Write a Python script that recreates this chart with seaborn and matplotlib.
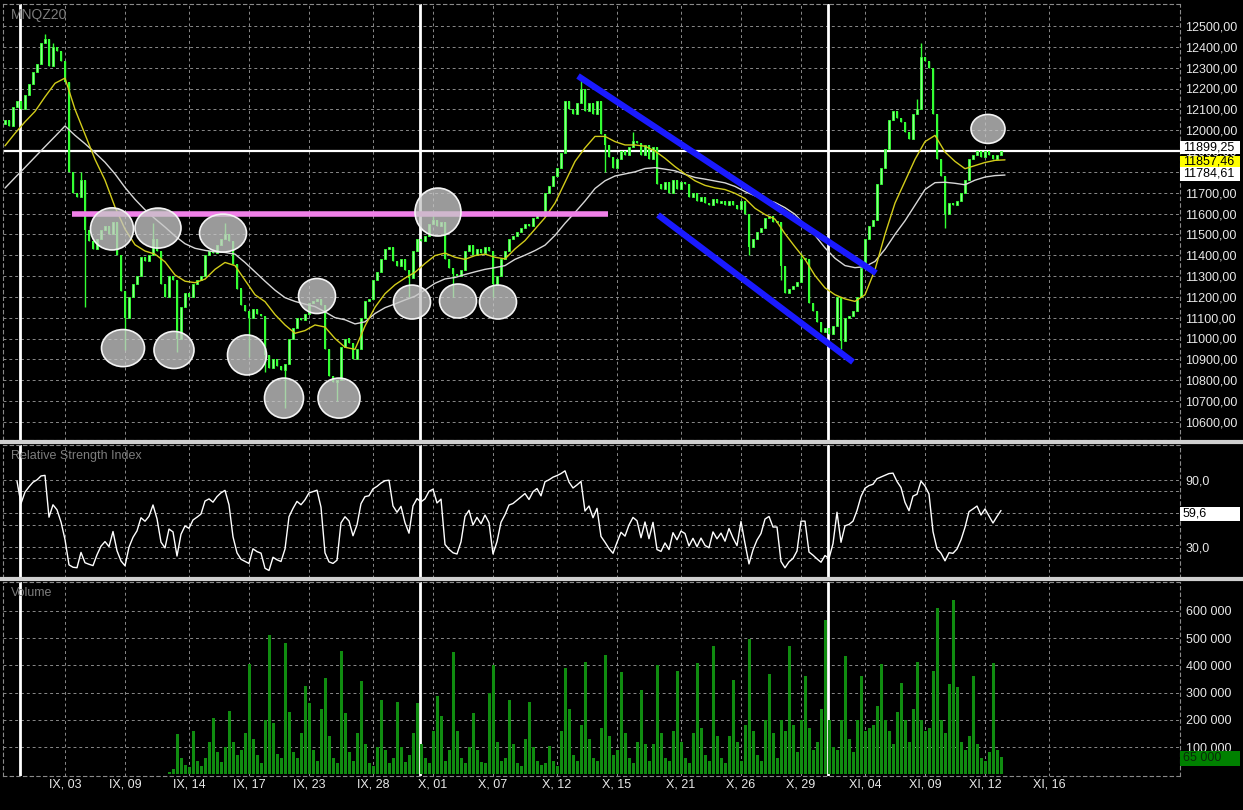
import numpy as np
import pandas as pd
import matplotlib
matplotlib.use("Agg")
import matplotlib.pyplot as plt
import matplotlib.transforms as mtransforms
from matplotlib.patches import Ellipse, Rectangle
from matplotlib.lines import Line2D
import seaborn as sns

sns.set_style("dark")
plt.rcParams['font.family'] = ['Liberation Sans', 'DejaVu Sans']

# ---------------- data ----------------
symbol = "MNQZ20"
closes = [
    12050, 12020, 12110, 12140, 12100, 12170, 12220, 12280, 12320, 12420,
    12440, 12310, 12400, 12380, 12330, 12230, 11800, 11700, 11680, 11760,
    11520, 11470, 11430, 11480, 11520, 11540, 11500, 11560, 11400, 11230,
    11100, 11200, 11260, 11300, 11390, 11370, 11400, 11480, 11420, 11260,
    11200, 11300, 11280, 11000, 11150, 11220, 11200, 11260, 11280, 11300,
    11400, 11420, 11410, 11450, 11480, 11500, 11470, 11360, 11240, 11160,
    11130, 11100, 11140, 11120, 11110, 10920, 10860, 10900, 10870, 10850,
    10880, 11000, 11050, 11100, 11090, 11120, 11170, 11180, 11190, 11160,
    10950, 10820, 10790, 10800, 10960, 11000, 10980, 10900, 10950, 11100,
    11180, 11190, 11280, 11320, 11380, 11430, 11440, 11370, 11350, 11380,
    11330, 11290, 11420, 11480, 11470, 11490, 11550, 11570, 11540, 11560,
    11380, 11340, 11310, 11300, 11330, 11420, 11450, 11400, 11430, 11410,
    11440, 11420, 11260, 11300, 11380, 11420, 11480, 11490, 11510, 11530,
    11550, 11540, 11580, 11600, 11590, 11700, 11730, 11780, 11820, 11890,
    12140, 12100, 12080, 12130, 12200, 12090, 12130, 12080, 12140, 11980,
    11930, 11870, 11820, 11860, 11900, 11880, 11920, 11950, 11940, 11880,
    11930, 11860, 11920, 11740, 11720, 11750, 11700, 11760, 11720, 11750,
    11740, 11680, 11700, 11660, 11680, 11650, 11640, 11670, 11650, 11660,
    11640, 11660, 11640, 11620, 11660, 11600, 11440, 11480, 11510, 11530,
    11580, 11590, 11560, 11560, 11350, 11220, 11240, 11250, 11270, 11380,
    11380, 11170, 11130, 11080, 11030, 11050, 11020, 11060, 11200, 10990,
    11100, 11110, 11130, 11200, 11340, 11480, 11540, 11570, 11740, 11820,
    11910, 12050, 12090, 12060, 12040, 11990, 11960, 12080, 12100, 12350,
    12330, 12300, 12080, 11860, 11780, 11600, 11650, 11640, 11660, 11700,
    11760, 11860, 11880, 11900, 11870, 11900, 11880, 11860, 11880, 11899.25,
]
first_open = 12030
wick_lows = {20: 11150, 30: 10945, 43: 10935, 61: 10910, 65: 10840, 70: 10665,
             83: 10700, 101: 11200, 112: 11200, 122: 11200, 186: 11400,
             209: 10950, 235: 11530, 194: 11280, 150: 11800}
wick_highs = {10: 12460, 12: 12420, 19: 11800, 37: 11555, 55: 11555, 107: 11610,
              144: 12250, 229: 12418, 228: 12150, 157: 11990, 199: 11410}

volume_k = [0] * 41 + [
    8, 20, 146, 60, 35, 25, 158, 50, 30, 60,
    120, 207, 80, 45, 100, 232, 120, 70, 90, 150,
    405, 130, 70, 40, 200, 512, 190, 75, 60, 482,
    230, 80, 60, 150, 323, 260, 90, 50, 240, 354,
    140, 60, 40, 454, 225, 80, 50, 150, 344, 110,
    40, 30, 100, 271, 90, 40, 60, 266, 100, 45,
    70, 150, 262, 110, 60, 40, 160, 287, 215, 50,
    90, 448, 160, 60, 40, 100, 226, 90, 45, 40,
    300, 402, 120, 50, 60, 272, 110, 40, 30, 130,
    266, 100, 50, 35, 40, 104, 50, 30, 160, 390,
    240, 70, 50, 180, 411, 130, 60, 50, 170, 437,
    140, 70, 90, 374, 150, 60, 40, 120, 311, 110,
    50, 110, 400, 150, 60, 50, 160, 378, 120, 60,
    40, 150, 408, 170, 70, 50, 472, 140, 60, 40,
    140, 348, 120, 50, 180, 496, 160, 70, 50, 200,
    368, 150, 60, 200, 160, 472, 180, 80, 200, 360,
    170, 90, 120, 240, 567, 200, 100, 90, 200, 433,
    130, 80, 200, 360, 160, 170, 180, 250, 405, 200,
    160, 110, 230, 335, 200, 120, 240, 412, 200, 160,
    170, 380, 612, 200, 150, 330, 640, 320, 120, 90,
    140, 360, 110, 60, 50, 80, 408, 90, 65,
]

# moving averages, one reading every 2.5 bars
ma_fast = [
    11925, 11985, 12040, 12090, 12160, 12225, 12250, 12100, 11980, 11860,
    11760, 11631, 11525, 11450, 11420, 11405, 11368, 11305, 11275, 11268,
    11285, 11332, 11365, 11350, 11280, 11210, 11177, 11115, 11065, 11025,
    11038, 11065, 11055, 11000, 10958, 10948, 11060, 11150, 11215, 11258,
    11290, 11318, 11360, 11398, 11410, 11390, 11380, 11398, 11405, 11390,
    11382, 11430, 11470, 11525, 11580, 11650, 11750, 11850, 11915, 11970,
    11970, 11945, 11929, 11929, 11923, 11900, 11865, 11825, 11790, 11757,
    11735, 11723, 11715, 11697, 11672, 11625, 11595, 11573, 11503, 11440,
    11380, 11302, 11243, 11210, 11190, 11178, 11210, 11330, 11500, 11650,
    11755, 11860, 11945, 11975, 11895, 11850, 11815, 11830, 11845, 11855,
    11857.46,
]
ma_slow = [
    11722, 11772, 11821, 11871, 11921, 11970, 12020, 11975, 11935, 11892,
    11846, 11790, 11725, 11668, 11618, 11575, 11535, 11492, 11455, 11433,
    11423, 11416, 11413, 11405, 11365, 11320, 11275, 11232, 11196, 11178,
    11165, 11153, 11128, 11100, 11090, 11070, 11080, 11120, 11148, 11166,
    11185, 11203, 11233, 11265, 11286, 11293, 11307, 11320, 11332, 11340,
    11350, 11380, 11400, 11422, 11448, 11495, 11553, 11605, 11660, 11720,
    11757, 11780, 11790, 11800, 11816, 11820, 11813, 11805, 11788, 11773,
    11765, 11756, 11747, 11730, 11705, 11685, 11668, 11653, 11628, 11596,
    11545, 11495, 11435, 11385, 11350, 11340, 11345, 11370, 11428, 11500,
    11565, 11640, 11715, 11748, 11750, 11745, 11738, 11760, 11775, 11782,
    11784.61,
]
ma_step = 2.5

date_labels = ["IX, 03", "IX, 09", "IX, 14", "IX, 17", "IX, 23", "IX, 28",
               "X, 01", "X, 07", "X, 12", "X, 15", "X, 21", "X, 26", "X, 29",
               "XI, 04", "XI, 09", "XI, 12", "XI, 16"]
date_bars = [15, 30, 46, 61, 76, 92, 107, 122, 138, 153, 169, 184, 199, 215, 230, 245, 261]
separator_bars = [3.75, 103.75, 205.75]

last_price = 11899.25
rsi_last = 59.6
volume_last = 65000
resistance = 11600
resistance_bars = (16.75, 150.75)
channel_upper = [(143.25, 12260), (217.75, 11314)]
channel_lower = [(163.25, 11593), (212.0, 10887)]
# (bar, price, width in bars, height in points)
circles = [
    (26.75, 11526, 10.75, 202), (38.25, 11530, 11.5, 192), (54.5, 11506, 11.75, 182),
    (78.0, 11204, 9.25, 168), (29.5, 10954, 10.75, 178), (42.25, 10945, 10.0, 178),
    (60.5, 10921, 9.75, 192), (69.75, 10714, 9.75, 192), (83.5, 10714, 10.5, 192),
    (108.25, 11607, 11.5, 230), (101.75, 11175, 9.25, 163), (113.25, 11180, 9.25, 163),
    (123.25, 11175, 9.25, 163), (245.75, 12006, 8.5, 139),
]

# ---------------- derived ----------------
n = len(closes)
bars = np.arange(n)
c = np.array(closes, dtype=float)
o = np.concatenate([[first_open], c[:-1]])
body_lo = np.minimum(o, c)
body_hi = np.maximum(o, c)
body_h = np.maximum(body_hi - body_lo, 6)
lows = body_lo.copy()
highs = body_hi.copy()
for k, v in wick_lows.items():
    lows[k] = min(lows[k], v)
for k, v in wick_highs.items():
    highs[k] = max(highs[k], v)

def rsi(values, period):
    s = pd.Series(values, dtype=float)
    d = s.diff()
    up = d.clip(lower=0)
    dn = -d.clip(upper=0)
    au = up.ewm(alpha=1 / period, adjust=False).mean()
    ad = dn.ewm(alpha=1 / period, adjust=False).mean()
    return 100 - 100 / (1 + au / ad)

rsi_vals = rsi(np.concatenate([[first_open], c]), 5).to_numpy()[1:]
rsi_vals[:3] = np.nan
vol = np.array(volume_k, dtype=float) * 1000

df_ma = pd.DataFrame({"bar": np.arange(len(ma_fast)) * ma_step, "fast": ma_fast, "slow": ma_slow})
df_rsi = pd.DataFrame({"bar": bars, "rsi": rsi_vals}).dropna()

# ---------------- figure ----------------
W, H = 1243, 810
fig = plt.figure(figsize=(W / 100, H / 100), dpi=100, facecolor="black")

def axrect(top, bottom, left=3, right=1180):
    return [left / W, 1 - bottom / H, (right - left) / W, (bottom - top) / H]

ax_p = fig.add_axes(axrect(4, 440))
ax_r = fig.add_axes(axrect(445, 578))
ax_v = fig.add_axes(axrect(582, 776))

grid_col = "#8a8a8a"
txt_col = "#e8e8e8"
xlim = (-0.5, 293.75)

for ax in (ax_p, ax_r, ax_v):
    ax.set_facecolor("black")
    ax.set_xlim(*xlim)
    for sp in ax.spines.values():
        sp.set_color(grid_col)
        sp.set_linestyle((0, (3, 3)))
        sp.set_linewidth(0.8)
    ax.yaxis.tick_right()
    ax.tick_params(axis="y", length=0, pad=4, labelcolor=txt_col, labelsize=9)
    ax.tick_params(axis="x", length=0)
    ax.set_xticks(date_bars)
    ax.grid(True, which="both", color=grid_col, linestyle=(0, (3, 3)), linewidth=0.7)
    ax.set_axisbelow(True)
    for b in separator_bars:
        ax.axvline(b, color="white", lw=2, zorder=1)
    ax.set_xlabel("")
    ax.set_ylabel("")

# ---- price panel
ax_p.set_ylim(10512.8, 12605.6)
ax_p.set_yticks(np.arange(10600, 12501, 100))
ax_p.set_yticklabels([f"{v:.2f}".replace(".", ",") for v in np.arange(10600, 12501, 100)])
ax_p.set_xticklabels([])
ax_p.axhline(last_price, color="white", lw=1.6, zorder=2)

lime = "#33ff33"
up = c >= o
ax_p.vlines(bars, lows, highs, color=lime, lw=1.0, zorder=3)
ax_p.bar(bars[up], body_h[up], bottom=body_lo[up], width=0.55, color="#8cff8c",
         edgecolor=lime, linewidth=0.6, zorder=3)
ax_p.bar(bars[~up], body_h[~up], bottom=body_lo[~up], width=0.55, color=lime,
         linewidth=0, zorder=3)

sns.lineplot(data=df_ma, x="bar", y="slow", ax=ax_p, color="#d8d8d8", lw=1.0, zorder=4)
sns.lineplot(data=df_ma, x="bar", y="fast", ax=ax_p, color="#d2cc1a", lw=1.0, zorder=4)
ax_p.set_xlabel("")
ax_p.set_ylabel("")

ax_p.plot(resistance_bars, [resistance, resistance], color="#f080e8", lw=4, zorder=5,
          solid_capstyle="butt")
for seg in (channel_upper, channel_lower):
    ax_p.plot([seg[0][0], seg[1][0]], [seg[0][1], seg[1][1]], color="#1a1aff", lw=4.5,
              zorder=5, solid_capstyle="butt")
for bx, py, wb, hp in circles:
    ax_p.add_patch(Ellipse((bx, py), wb, hp, facecolor=(0.78, 0.78, 0.78, 0.78),
                           edgecolor="#f4f4f4", lw=1.2, zorder=6))

ax_p.text(8 / 1177, 1 - 4 / 436, symbol, transform=ax_p.transAxes, color="#7d7d7d",
          fontsize=10, va="top", ha="left")

def value_box(ax, y, text, face, tcol, h_px, z=10):
    tr = mtransforms.blended_transform_factory(ax.transAxes, ax.transData)
    y0, y1 = ax.get_ylim()
    ax_h_px = ax.get_position().height * H
    h = h_px * (y1 - y0) / ax_h_px
    ax.add_patch(Rectangle((1.0, y - h / 2), 60 / 1177, h, transform=tr, facecolor=face,
                           edgecolor="none", clip_on=False, zorder=z))
    ax.text(1.0 + 3 / 1177, y, text, transform=tr, color=tcol, fontsize=9,
            va="center", ha="left", clip_on=False, zorder=z + 1)

value_box(ax_p, 11915, "11899,25", "white", "black", 13, z=10)
value_box(ax_p, 11852, "11857,46", "#ffff00", "black", 11, z=12)
value_box(ax_p, 11790, "11784,61", "white", "black", 14, z=14)

# ---- RSI panel
sns.lineplot(data=df_rsi, x="bar", y="rsi", ax=ax_r, color="white", lw=1.0, zorder=4)
ax_r.set_xlabel("")
ax_r.set_ylabel("")
ax_r.set_ylim(2.25, 121.3)
ax_r.set_yticks([30, 90])
ax_r.set_yticklabels(["30,0", "90,0"])
ax_r.set_yticks([20, 50, 60, 80], minor=True)
ax_r.tick_params(axis="y", which="minor", length=0)
ax_r.set_xticklabels([])
ax_r.text(8 / 1177, 1 - 5 / 133, "Relative Strength Index", transform=ax_r.transAxes,
          color="#7d7d7d", fontsize=9, va="top", ha="left")
value_box(ax_r, rsi_last, "59,6", "white", "black", 14)

# ---- Volume panel
ax_v.bar(bars, vol, width=0.75, color="#108c10", linewidth=0, zorder=3)
ax_v.set_ylim(-6600, 706600)
vt = np.arange(100000, 600001, 100000)
ax_v.set_yticks(vt)
ax_v.set_yticklabels([f"{int(v):,}".replace(",", " ") for v in vt])
ax_v.set_xticklabels(date_labels)
ax_v.tick_params(axis="x", labelcolor=txt_col, labelsize=9, pad=2)
ax_v.text(8 / 1177, 1 - 5 / 194, "Volume", transform=ax_v.transAxes,
          color="#7d7d7d", fontsize=9, va="top", ha="left")
value_box(ax_v, 58000, f"{volume_last:,}".replace(",", " "), "#008000", "#0a2a0a", 15)

# panel separators
for ypx in (442, 579):
    fig.add_artist(Line2D([0, 1], [1 - ypx / H, 1 - ypx / H], transform=fig.transFigure,
                          color="#cfcfcf", lw=3))

fig.savefig("out.png", dpi=100, facecolor="black")
